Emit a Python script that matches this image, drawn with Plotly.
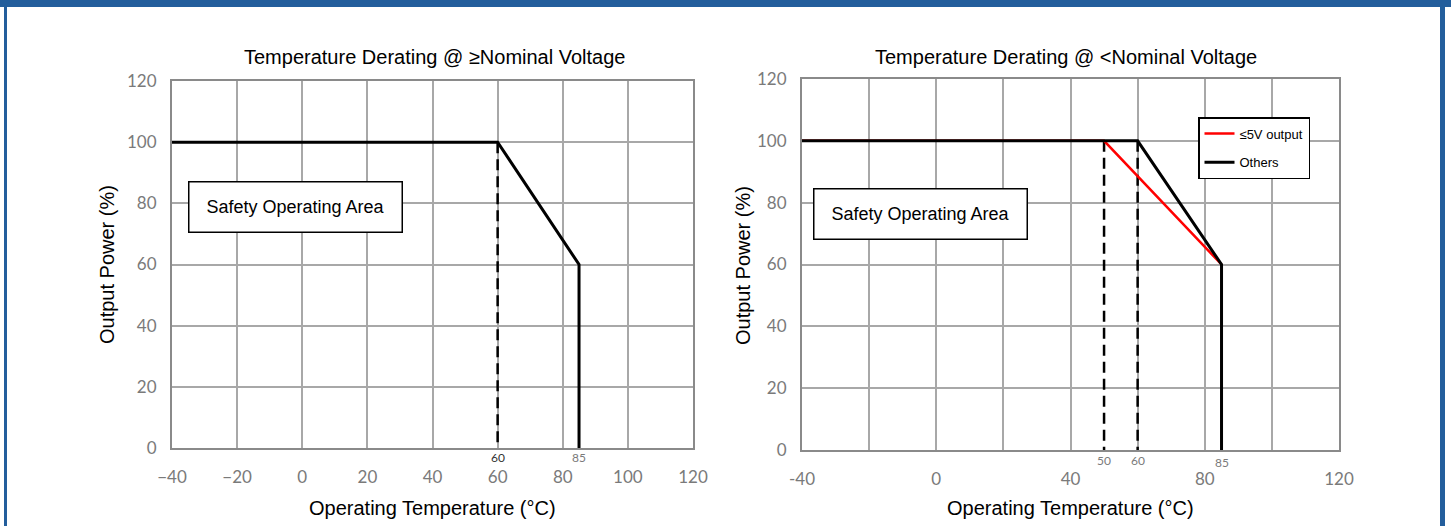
import plotly.graph_objects as go

W, H = 1451, 526

# ---- data ----
x_ticks_left = [-40, -20, 0, 20, 40, 60, 80, 100, 120]
x_ticks_right = [-40, -20, 0, 20, 40, 60, 80, 100, 120]
x_ticktext_right = ["-40", "", "0", "", "40", "", "80", "", "120"]
y_ticks = [0, 20, 40, 60, 80, 100, 120]

left_temp = [-40, 60, 85, 85]
left_power = [100, 100, 60, 0]
left_knee_temp = [60, 60]
left_knee_power = [100, 0]

others_temp = [-40, 60, 85, 85]
others_power = [100, 100, 60, 0]
low_v_temp = [-40, 50, 85]
low_v_power = [100, 100, 60]
knee50_temp = [50, 50]
knee60_temp = [60, 60]
knee_power = [100, 0]

marker_labels_left = [60, 85]
marker_labels_right = [50, 60, 85]

titles = ["Temperature Derating @ ≥Nominal Voltage", "Temperature Derating @ <Nominal Voltage"]
x_title = "Operating Temperature (°C)"
y_title = "Output Power (%)"
area_text = "Safety Operating Area"
series_names = ["≤5V output", "Others"]


def px(xp):
    return xp / W


def py(yp):
    return (H - yp) / H


fig = go.Figure()

dash_pat = "11px,6px"

# left plot
fig.add_trace(go.Scatter(x=left_knee_temp, y=left_knee_power, mode="lines",
                         line=dict(color="black", width=2.5, dash=dash_pat),
                         xaxis="x", yaxis="y", showlegend=False, hoverinfo="skip"))
fig.add_trace(go.Scatter(x=left_temp, y=left_power, mode="lines",
                         line=dict(color="black", width=3),
                         xaxis="x", yaxis="y", showlegend=False))

# right plot
fig.add_trace(go.Scatter(x=knee50_temp, y=knee_power, mode="lines",
                         line=dict(color="black", width=2.5, dash=dash_pat),
                         xaxis="x2", yaxis="y2", showlegend=False, hoverinfo="skip"))
fig.add_trace(go.Scatter(x=knee60_temp, y=knee_power, mode="lines",
                         line=dict(color="black", width=2.5, dash=dash_pat),
                         xaxis="x2", yaxis="y2", showlegend=False, hoverinfo="skip"))
fig.add_trace(go.Scatter(x=low_v_temp, y=low_v_power, mode="lines", name=series_names[0],
                         line=dict(color="#ff0000", width=2.5),
                         xaxis="x2", yaxis="y2", legendgroup="a"))
fig.add_trace(go.Scatter(x=others_temp, y=others_power, mode="lines", name=series_names[1],
                         line=dict(color="black", width=3),
                         xaxis="x2", yaxis="y2", legendgroup="b"))

tick_font = dict(family="Lato, 'Open Sans', sans-serif", size=17, color="#7a7a7a")
axis_common = dict(showline=True, mirror=True, linecolor="#8a8a8a", linewidth=2,
                   showgrid=True, gridcolor="#a8a8a8", gridwidth=1.5,
                   zeroline=False, tickfont=tick_font, ticks="")

fig.update_layout(
    width=W, height=H,
    margin=dict(l=0, r=0, t=0, b=0, autoexpand=False),
    paper_bgcolor="white", plot_bgcolor="white",
    font=dict(family="Liberation Sans, Arial, sans-serif", color="black"),
    xaxis=dict(domain=[px(172), px(693)], range=[-40, 120], tickmode="array",
               tickvals=x_ticks_left, anchor="y", ticklabelstandoff=13, **axis_common),
    yaxis=dict(domain=[py(448), py(81)], range=[0, 120], tickmode="array",
               tickvals=y_ticks, anchor="x", ticklabelstandoff=10, **axis_common),
    xaxis2=dict(domain=[px(802), px(1339)], range=[-40, 120], tickmode="array",
                tickvals=x_ticks_right, ticktext=x_ticktext_right, anchor="y2",
                ticklabelstandoff=13, **axis_common),
    yaxis2=dict(domain=[py(450), py(79)], range=[0, 120], tickmode="array",
                tickvals=y_ticks, anchor="x2", ticklabelstandoff=10, **axis_common),
    showlegend=True,
    legend=dict(x=px(1198), y=py(117), xanchor="left", yanchor="top",
                bgcolor="white", bordercolor="black", borderwidth=1.5,
                font=dict(family="Liberation Sans, Arial, sans-serif", size=13, color="black"),
                itemwidth=30, tracegroupgap=9, traceorder="grouped"),
)

annotations = []
big = 20
# chart titles
annotations.append(dict(text=titles[0], x=px(434), y=py(57), xref="paper", yref="paper",
                        showarrow=False, font=dict(size=big), xanchor="center", yanchor="middle"))
annotations.append(dict(text=titles[1], x=px(1066), y=py(57), xref="paper", yref="paper",
                        showarrow=False, font=dict(size=big), xanchor="center", yanchor="middle"))
# axis titles
for xc in (px(432), px(1070)):
    annotations.append(dict(text=x_title, x=xc, y=py(508), xref="paper", yref="paper",
                            showarrow=False, font=dict(size=big), xanchor="center", yanchor="middle"))
for xc, yc in ((px(107), py(265)), (px(743), py(265))):
    annotations.append(dict(text=y_title, x=xc, y=yc, xref="paper", yref="paper", textangle=-90,
                            showarrow=False, font=dict(size=big), xanchor="center", yanchor="middle"))
# safety boxes
for xc, yc in ((px(295), py(207)), (px(920), py(214))):
    annotations.append(dict(text=area_text, x=xc, y=yc, xref="paper", yref="paper",
                            showarrow=False, font=dict(size=18), xanchor="center", yanchor="middle",
                            width=208, height=45, bordercolor="black", borderwidth=1.5,
                            borderpad=2, bgcolor="white"))
# small temperature marks below the axis
for v in marker_labels_left:
    annotations.append(dict(text=str(v), x=v, y=0, xref="x", yref="y", showarrow=False,
                            yanchor="top", yshift=-1, borderpad=0,
                            font=dict(family="Lato, sans-serif", size=12,
                                      color="#333333" if v == 60 else "#7a7a7a")))
for v in marker_labels_right:
    annotations.append(dict(text=str(v), x=v, y=0, xref="x2", yref="y2", showarrow=False,
                            yanchor="top", yshift=-2 if v != 85 else -4, borderpad=0,
                            font=dict(family="Lato, sans-serif", size=12, color="#7a7a7a")))
fig.update_layout(annotations=annotations)

# blue frame
frame_col = "#235e9c"
fig.update_layout(shapes=[
    dict(type="rect", xref="paper", yref="paper", x0=0, x1=1, y0=py(7), y1=1,
         fillcolor=frame_col, line=dict(width=0), layer="above"),
    dict(type="rect", xref="paper", yref="paper", x0=px(4), x1=px(7), y0=0, y1=1,
         fillcolor=frame_col, line=dict(width=0), layer="above"),
    dict(type="rect", xref="paper", yref="paper", x0=px(1440), x1=px(1445), y0=0, y1=1,
         fillcolor=frame_col, line=dict(width=0), layer="above"),
])

fig.write_html(
    "out.html",
    config={"displayModeBar": False},
    post_script="document.body.style.margin='0';document.body.style.padding='0';"
                "document.body.style.overflow='hidden';",
)
